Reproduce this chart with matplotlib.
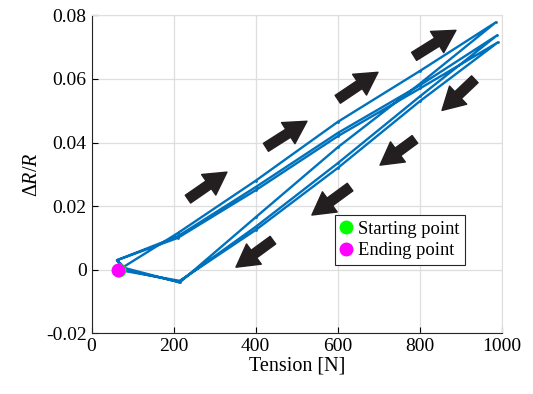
import numpy as np
import matplotlib
matplotlib.use('Agg')
import matplotlib.pyplot as plt

plt.rcParams['font.family'] = ['Liberation Serif', 'DejaVu Serif']
plt.rcParams['mathtext.fontset'] = 'custom'
plt.rcParams['mathtext.rm'] = 'Liberation Serif'
plt.rcParams['mathtext.it'] = 'Liberation Serif:italic'
plt.rcParams['axes.unicode_minus'] = False

# three load / unload cycles (tension in N, relative resistance change)
tension_c1 = [67, 210, 400, 600, 800, 985, 800, 600, 400, 215, 82]
dr_c1 = [0.0, 0.0115, 0.028, 0.0465, 0.0625, 0.0778, 0.0585, 0.0385, 0.0165, -0.004, 0.0005]
tension_c2 = [62, 210, 400, 600, 800, 988, 800, 600, 400, 213, 80]
dr_c2 = [0.003, 0.0105, 0.026, 0.043, 0.058, 0.0737, 0.0545, 0.0335, 0.0135, -0.0038, 0.0]
tension_c3 = [62, 210, 400, 600, 800, 990, 800, 600, 400, 215, 64]
dr_c3 = [0.003, 0.010, 0.025, 0.042, 0.057, 0.0715, 0.053, 0.0320, 0.0125, -0.0035, 0.0]

tension = tension_c1 + tension_c2 + tension_c3
dr = dr_c1 + dr_c2 + dr_c3

# arrow annotations (tail -> head) in data units
up_arrows = [((235, 0.0222), (330, 0.0307)), ((425, 0.0385), (525, 0.0467)),
             ((600, 0.0536), (698, 0.0621)), ((786, 0.0671), (888, 0.0753))]
down_arrows = [((934, 0.0599), (854, 0.0501)), ((788, 0.0410), (703, 0.0329)),
               ((630, 0.0260), (537, 0.0172)), ((442, 0.0093), (352, 0.0008))]

yticks = [-0.02, 0, 0.02, 0.04, 0.06, 0.08]
ytick_labels = ['-0.02', '0', '0.02', '0.04', '0.06', '0.08']
xticks = [0, 200, 400, 600, 800, 1000]

fig = plt.figure(figsize=(5.33, 3.94), dpi=100)
ax = fig.add_axes([0.1717, 0.154, 0.770, 0.807])

ax.plot(tension, dr, color='#0072BD', lw=1.7, marker='.', ms=2,
        solid_joinstyle='round', zorder=3)
ax.plot(tension[0], dr[0], 'o', color='#00FF00', ms=9, zorder=4, label='Starting point')
ax.plot(tension[-1], dr[-1], 'o', color='#FF00FF', ms=9, zorder=5, label='Ending point')

for tail, head in up_arrows + down_arrows:
    ax.annotate('', xy=head, xytext=tail,
                arrowprops=dict(arrowstyle='simple,head_length=0.8,head_width=0.9,tail_width=0.34',
                                color='#231f20', shrinkA=0, shrinkB=0, mutation_scale=20),
                zorder=6)

ax.set_xlim(0, 1000)
ax.set_ylim(-0.02, 0.08)
ax.set_xticks(xticks)
ax.set_yticks(yticks)
ax.set_yticklabels(ytick_labels)
ax.tick_params(direction='in', labelsize=14, length=4, width=0.8, top=False, right=False)
ax.grid(True, color='#dedede', lw=0.9)
ax.set_axisbelow(True)
for s in ['top', 'right']:
    ax.spines[s].set_color('#dedede')
for s in ['left', 'bottom']:
    ax.spines[s].set_color('#262626')
    ax.spines[s].set_linewidth(0.8)

ax.set_xlabel('Tension [N]', fontsize=14.5, labelpad=1)
ax.set_ylabel(r'$\Delta R/R$', fontsize=14.5, labelpad=3)

leg = ax.legend(loc='upper left', bbox_to_anchor=(0.593, 0.372), fontsize=13.3,
                frameon=True, fancybox=False, edgecolor='#262626', framealpha=1,
                handlelength=0.6, handletextpad=0.35, borderpad=0.3, labelspacing=0.25,
                borderaxespad=0)
leg.get_frame().set_linewidth(0.8)

fig.savefig('out.png', dpi=100)
